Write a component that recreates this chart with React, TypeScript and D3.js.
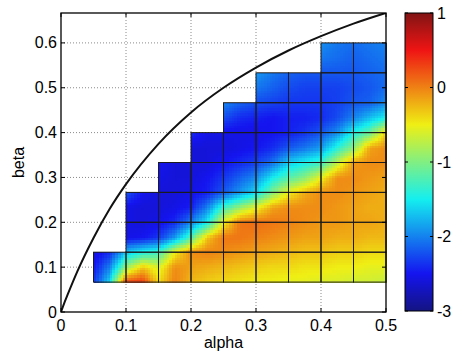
import React from "react";
import * as d3 from "d3";

// ---------- data ----------
const ALPHA_NODES = [0.05, 0.075, 0.1, 0.125, 0.15, 0.175, 0.2, 0.225, 0.25, 0.275, 0.3, 0.325, 0.35, 0.375, 0.4, 0.425, 0.45, 0.475, 0.5];
// beta nodes listed from top (0.6) to bottom (1/15)
const BETA_NODES = [18 / 30, 17 / 30, 16 / 30, 15 / 30, 14 / 30, 13 / 30, 12 / 30, 11 / 30, 10 / 30, 9 / 30, 8 / 30, 7 / 30, 6 / 30, 5 / 30, 4 / 30, 3 / 30, 2 / 30];
const N = null;
// field values (colour scale -3..1), rows follow BETA_NODES, columns follow ALPHA_NODES
const FIELD: (number | null)[][] = [
  [N, N, N, N, N, N, N, N, N, N, N, N, N, N, -1.95, -2.05, -2.1, -2.05, -2.0],
  [N, N, N, N, N, N, N, N, N, N, N, N, N, N, -2.05, -2.1, -2.15, -2.1, -2.05],
  [N, N, N, N, N, N, N, N, N, N, -1.9, -2.05, -2.15, -2.2, -2.2, -2.2, -2.2, -2.15, -2.1],
  [N, N, N, N, N, N, N, N, N, N, -2.05, -2.15, -2.25, -2.3, -2.3, -2.3, -2.25, -2.2, -2.1],
  [N, N, N, N, N, N, N, N, -2.0, -2.15, -2.25, -2.3, -2.35, -2.35, -2.35, -2.3, -2.2, -2.15, -1.95],
  [N, N, N, N, N, N, N, N, -2.25, -2.4, -2.45, -2.5, -2.45, -2.45, -2.4, -2.25, -2.0, -1.72, -1.47],
  [N, N, N, N, N, N, -2.4, -2.55, -2.55, -2.55, -2.55, -2.5, -2.45, -2.35, -2.2, -1.93, -1.43, -1.1, -0.35],
  [N, N, N, N, N, N, -2.6, -2.6, -2.6, -2.55, -2.5, -2.4, -2.2, -2.05, -1.88, -1.39, -0.95, -0.15, -0.05],
  [N, N, N, N, -2.5, -2.6, -2.6, -2.6, -2.5, -2.4, -2.3, -2.07, -1.65, -1.47, -1.3, -0.7, -0.1, -0.05, -0.05],
  [N, N, N, N, -2.55, -2.6, -2.6, -2.5, -2.35, -2.15, -1.95, -1.5, -1.19, -0.95, -0.5, -0.05, -0.05, -0.1, -0.15],
  [N, N, -2.2, -2.5, -2.6, -2.6, -2.55, -2.45, -2.2, -1.9, -1.6, -1.0, -0.5, -0.2, -0.05, -0.05, -0.1, -0.15, -0.2],
  [N, N, -2.55, -2.6, -2.6, -2.55, -2.45, -2.0, -1.3, -0.9, -0.55, -0.15, -0.05, -0.05, -0.05, -0.1, -0.15, -0.2, -0.2],
  [N, N, -2.55, -2.6, -2.55, -2.4, -2.0, -1.5, -0.5, 0.05, 0.1, 0.05, 0.0, -0.05, -0.1, -0.1, -0.15, -0.15, -0.2],
  [N, N, -2.55, -2.5, -2.35, -1.9, -1.2, -0.3, 0.05, 0.05, 0.0, -0.05, -0.1, -0.15, -0.15, -0.2, -0.2, -0.25, -0.25],
  [-2.6, -2.4, -1.7, -1.45, -1.3, -0.5, -0.05, 0.0, -0.05, -0.1, -0.15, -0.2, -0.25, -0.3, -0.3, -0.35, -0.35, -0.4, -0.4],
  [-2.5, -2.0, -0.9, -0.3, -0.6, -0.05, -0.15, -0.2, -0.25, -0.3, -0.35, -0.4, -0.4, -0.45, -0.45, -0.5, -0.5, -0.55, -0.55],
  [-2.35, -1.6, 0.3, 0.35, -0.4, 0.0, -0.25, -0.35, -0.4, -0.45, -0.5, -0.5, -0.55, -0.55, -0.6, -0.6, -0.65, -0.65, -0.7],
];
// cell grid: one row per beta band, cells 0.05 wide from the row's first alpha to 0.5
const ROW_BOTTOMS = [1 / 15, 2 / 15, 3 / 15, 4 / 15, 5 / 15, 6 / 15, 7 / 15, 8 / 15];
const ROW_STARTS = [0.05, 0.1, 0.1, 0.15, 0.2, 0.25, 0.3, 0.4];
const CELL_W = 0.05;
const ROW_H = 1 / 15;
const ALPHA_MAX = 0.5;
// boundary curve
const CURVE_ALPHA = [0, 0.005, 0.01, 0.025, 0.05, 0.075, 0.1, 0.15, 0.2, 0.25, 0.3, 0.35, 0.4, 0.45, 0.5];
const CURVE_BETA = [0, 0.02, 0.038, 0.09, 0.165, 0.23, 0.285, 0.375, 0.445, 0.5, 0.545, 0.583, 0.615, 0.643, 0.667];
const X_TICKS = [0, 0.1, 0.2, 0.3, 0.4, 0.5];
const Y_TICKS = [0, 0.1, 0.2, 0.3, 0.4, 0.5, 0.6];
const CB_TICKS = [1, 0, -1, -2, -3];
const X_LABEL = "alpha";
const Y_LABEL = "beta";

// ---------- helpers ----------
const clamp = (v: number) => Math.max(0, Math.min(1, v));
function jet(t: number): string {
  const r = clamp(1.5 - Math.abs(4 * t - 3));
  const g = clamp(1.5 - Math.abs(4 * t - 2));
  const b = clamp(1.5 - Math.abs(4 * t - 1));
  const f = (c: number) => Math.round(20 + 0.86 * 255 * c);
  return `rgb(${f(r)},${f(g)},${f(b)})`;
}
const cnorm = d3.scaleLinear().domain([-3, 1]).range([0, 1]).clamp(true);
const colorOf = (v: number) => jet(cnorm(v));

const FONT = "'Liberation Sans', Arial, Helvetica, sans-serif";

export default function App() {
  const W = 456, H = 353;
  const L = 61, T = 13, R = 386, B = 312;
  const x = d3.scaleLinear().domain([0, 0.5]).range([L, R]);
  const y = d3.scaleLinear().domain([0, 2 / 3]).range([B, T]);
  const cbX = 405, cbW = 28;
  const cy = d3.scaleLinear().domain([-3, 1]).range([311, 13]);

  // field as bilinear-shaded sub rectangles
  const betaUp = BETA_NODES.slice().reverse();
  const fieldUp = FIELD.slice().reverse();
  const rects: JSX.Element[] = [];
  const SUB = 6;
  for (let j = 0; j < betaUp.length - 1; j++) {
    const row = Math.floor(((betaUp[j] + betaUp[j + 1]) / 2 - ROW_BOTTOMS[0]) / ROW_H);
    for (let i = 0; i < ALPHA_NODES.length - 1; i++) {
      if (ALPHA_NODES[i] < ROW_STARTS[row] - 1e-9) continue;
      const v00 = fieldUp[j][i], v10 = fieldUp[j][i + 1], v01 = fieldUp[j + 1][i], v11 = fieldUp[j + 1][i + 1];
      if (v00 == null || v10 == null || v01 == null || v11 == null) continue;
      const x0 = x(ALPHA_NODES[i]), x1 = x(ALPHA_NODES[i + 1]);
      const y0 = y(betaUp[j]), y1 = y(betaUp[j + 1]);
      const dx = (x1 - x0) / SUB, dy = (y1 - y0) / SUB;
      for (let a = 0; a < SUB; a++) {
        for (let b = 0; b < SUB; b++) {
          const u = (a + 0.5) / SUB, w = (b + 0.5) / SUB;
          const v = v00 * (1 - u) * (1 - w) + v10 * u * (1 - w) + v01 * (1 - u) * w + v11 * u * w;
          const rx = x0 + a * dx;
          const ry = y0 + (b + 1) * dy;
          rects.push(
            <rect key={`f${i}-${j}-${a}-${b}`} x={rx} y={ry} width={dx + 0.6} height={-dy + 0.6} fill={colorOf(v)} />
          );
        }
      }
    }
  }

  const cells: JSX.Element[] = [];
  ROW_BOTTOMS.forEach((b0, r) => {
    for (let a = ROW_STARTS[r]; a < ALPHA_MAX - 1e-9; a += CELL_W) {
      cells.push(
        <rect key={`c${r}-${a.toFixed(3)}`} x={x(a)} y={y(b0 + ROW_H)} width={x(a + CELL_W) - x(a)} height={y(b0) - y(b0 + ROW_H)}
          fill="none" stroke="#1c1c1c" strokeWidth={1} />
      );
    }
  });

  const curve = d3.line<number>().x((_, i) => x(CURVE_ALPHA[i])).y((d) => y(d)).curve(d3.curveMonotoneX)(CURVE_BETA) || "";

  const gradStops = [0, 0.125, 0.375, 0.625, 0.875, 1];

  return (
    <svg width={W} height={H} style={{ position: "absolute", left: 0, top: 0, background: "#fff" }} fontFamily={FONT}>
      <defs>
        <linearGradient id="cbg" x1="0" y1="1" x2="0" y2="0">
          {gradStops.map((s) => (
            <stop key={s} offset={s} stopColor={jet(s)} />
          ))}
        </linearGradient>
        <clipPath id="plotclip">
          <rect x={L} y={T} width={R - L} height={B - T} />
        </clipPath>
      </defs>
      <rect x={0} y={0} width={W} height={H} fill="#fff" />
      {/* grid */}
      <g stroke="#8a8a8a" strokeWidth={1} strokeDasharray="1,2">
        {X_TICKS.filter((t) => t > 0 && t < 0.5).map((t) => (
          <line key={`gx${t}`} x1={x(t)} x2={x(t)} y1={B} y2={T} />
        ))}
        {Y_TICKS.filter((t) => t > 0).map((t) => (
          <line key={`gy${t}`} x1={L} x2={R} y1={y(t)} y2={y(t)} />
        ))}
      </g>
      <g shapeRendering="crispEdges">{rects}</g>
      <g>{cells}</g>
      <path d={curve} fill="none" stroke="#111" strokeWidth={2} clipPath="url(#plotclip)" />
      {/* axes box */}
      <rect x={L} y={T} width={R - L} height={B - T} fill="none" stroke="#000" strokeWidth={1.3} />
      <g stroke="#000" strokeWidth={1}>
        {X_TICKS.map((t) => (
          <g key={`tx${t}`}>
            <line x1={x(t)} x2={x(t)} y1={B} y2={B - 4} />
            <line x1={x(t)} x2={x(t)} y1={T} y2={T + 4} />
          </g>
        ))}
        {Y_TICKS.map((t) => (
          <g key={`ty${t}`}>
            <line x1={L} x2={L + 4} y1={y(t)} y2={y(t)} />
            <line x1={R} x2={R - 4} y1={y(t)} y2={y(t)} />
          </g>
        ))}
      </g>
      <g fontSize={16} fill="#000">
        {X_TICKS.map((t) => (
          <text key={`lx${t}`} x={x(t)} y={331} textAnchor="middle">{String(t)}</text>
        ))}
        {Y_TICKS.map((t) => (
          <text key={`ly${t}`} x={57} y={y(t)} textAnchor="end" dominantBaseline="central">{String(t)}</text>
        ))}
        <text x={(L + R) / 2} y={348} textAnchor="middle">{X_LABEL}</text>
        <text transform={`translate(24,${(T + B) / 2}) rotate(-90)`} textAnchor="middle">{Y_LABEL}</text>
      </g>
      {/* colorbar */}
      <rect x={cbX} y={cy(1)} width={cbW} height={cy(-3) - cy(1)} fill="url(#cbg)" stroke="#000" strokeWidth={1} />
      <g stroke="#000" strokeWidth={1}>
        {CB_TICKS.map((t) => (
          <g key={`cbt${t}`}>
            <line x1={cbX} x2={cbX + 3} y1={cy(t)} y2={cy(t)} />
            <line x1={cbX + cbW} x2={cbX + cbW - 3} y1={cy(t)} y2={cy(t)} />
          </g>
        ))}
      </g>
      <g fontSize={16} fill="#000">
        {CB_TICKS.map((t) => (
          <text key={`cbl${t}`} x={437} y={cy(t)} dominantBaseline="central">{t < 0 ? `-${-t}` : String(t)}</text>
        ))}
      </g>
    </svg>
  );
}
